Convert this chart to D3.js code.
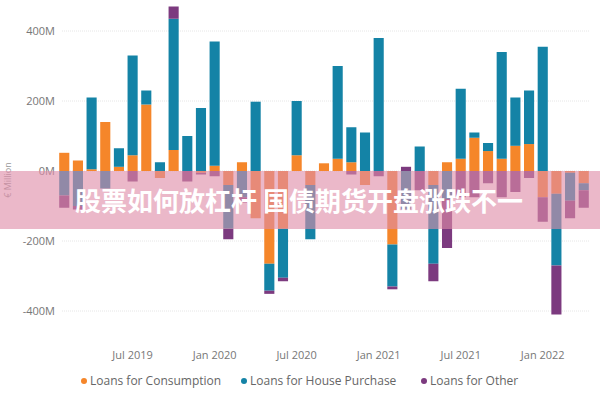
<!DOCTYPE html>
<html><head><meta charset="utf-8">
<script src="https://cdn.jsdelivr.net/npm/d3@7"></script>
<style>body{margin:0;background:#fff}svg{display:block}</style>
</head><body><svg id="c" width="600" height="400"></svg>
<script>
const months = ["2019-02","2019-03","2019-04","2019-05","2019-06","2019-07","2019-08","2019-09","2019-10","2019-11","2019-12",
"2020-01","2020-02","2020-03","2020-04","2020-05","2020-06","2020-07","2020-08","2020-09","2020-10","2020-11","2020-12",
"2021-01","2021-02","2021-03","2021-04","2021-05","2021-06","2021-07","2021-08","2021-09","2021-10","2021-11","2021-12",
"2022-01","2022-02","2022-03","2022-04"];
const consumption = [52,30,5,140,12,45,190,-20,60,0,-5,15,-40,25,-135,-265,-165,45,-40,22,35,25,-40,0,-210,0,0,-40,25,35,95,57,35,72,77,-75,-65,-5,-35];
const house =       [-70,-100,205,-50,53,285,40,25,375,100,180,355,-125,-75,198,-77,-140,155,-155,0,265,100,110,380,-120,-110,70,-225,-80,200,15,23,305,138,153,355,-205,-80,-20];
const other =       [-35,-10,0,0,0,-30,0,0,35,-30,-5,-15,-30,-15,0,-9,-10,0,0,0,0,-10,0,-15,-8,12,-55,-50,-140,-75,-75,-35,-75,-60,-20,-70,-140,-50,-50];
const seriesNames = ["Loans for Consumption","Loans for House Purchase","Loans for Other"];
const colors = ["#f5862a","#1483a6","#7c3a7f"];
const yTicks = [400,200,0,-200,-400];
const xTickMonths = ["2019-07","2020-01","2020-07","2021-01","2021-07","2022-01"];
const xTickLabels = ["Jul 2019","Jan 2020","Jul 2020","Jan 2021","Jul 2021","Jan 2022"];

const svg = d3.select("#c");
const x = d3.scaleBand().domain(months).range([59.2,588.8]).paddingInner(0.26);
const y = d3.scaleLinear().domain([-400,400]).range([311,31]);
const font = "'Segoe UI','Open Sans',sans-serif";

svg.append("g").selectAll("line").data(yTicks).join("line")
  .attr("x1",62).attr("x2",590).attr("y1",d=>y(d)).attr("y2",d=>y(d))
  .attr("stroke","#e6e6e6").attr("stroke-dasharray","1,1");
const yAxis = svg.append("g").attr("transform","translate(58,0)")
  .call(d3.axisLeft(y).tickValues(yTicks).tickSize(0).tickFormat(d=>d+"M"));
yAxis.select(".domain").remove();
yAxis.selectAll("text").attr("fill","#777").attr("font-size",11).attr("font-family",font);
svg.append("text").attr("transform","translate(11,180) rotate(-90)").attr("text-anchor","middle")
  .attr("fill","#999").attr("font-size",9).attr("font-family",font).text("€ Million");

const data = months.map((m,i)=>({m,v:[consumption[i],house[i],other[i]]}));
const rects=[];
data.forEach(d=>{let pos=0,neg=0;d.v.forEach((v,k)=>{
  if(v>=0){rects.push({m:d.m,k,y0:pos,y1:pos+v});pos+=v;}
  else{rects.push({m:d.m,k,y0:neg+v,y1:neg});neg+=v;}
});});
svg.append("g").selectAll("rect").data(rects).join("rect")
  .attr("x",d=>x(d.m)).attr("width",x.bandwidth())
  .attr("y",d=>y(d.y1)).attr("height",d=>Math.max(0,y(d.y0)-y(d.y1)))
  .attr("fill",d=>colors[d.k]);

const xAxis = svg.append("g").attr("transform","translate(0,348)")
  .call(d3.axisBottom(x).tickValues(xTickMonths).tickSize(0).tickFormat((d,i)=>xTickLabels[i]));
xAxis.select(".domain").remove();
xAxis.selectAll("text").attr("fill","#777").attr("font-size",11).attr("font-family",font);

const lg = svg.append("g").attr("transform","translate(84,381)");
const lx=[0,160,340];
seriesNames.forEach((n,i)=>{
  const g=lg.append("g").attr("transform",`translate(${lx[i]},0)`);
  g.append("circle").attr("r",3).attr("fill",colors[i]);
  g.append("text").attr("x",6).attr("y",4).attr("fill","#666").attr("font-size",12).attr("font-family",font).text(n);
});

svg.append("rect").attr("x",0).attr("y",171).attr("width",600).attr("height",58).attr("fill","rgba(222,140,168,0.62)");
svg.append("text").attr("x",299).attr("y",211).attr("text-anchor","middle").attr("fill","#fff")
  .attr("font-size",26).attr("font-weight","bold").attr("font-family","'Noto Sans CJK SC',sans-serif")
  .text("股票如何放杠杆 国债期货开盘涨跌不一");
</script></body></html>
